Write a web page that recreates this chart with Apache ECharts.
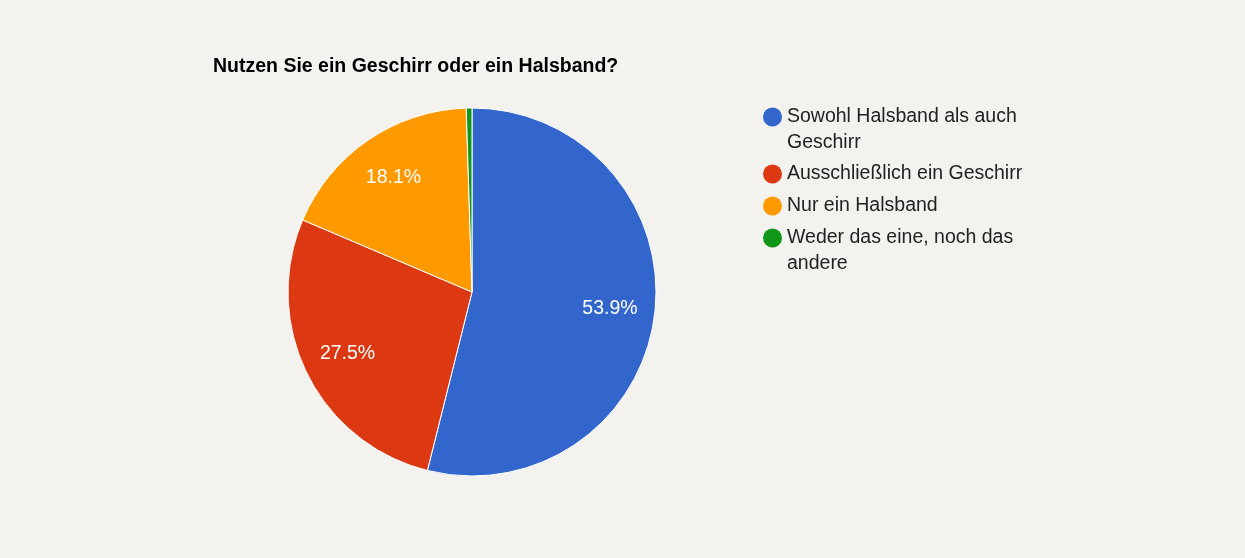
<!DOCTYPE html>
<html>
<head>
<meta charset="utf-8">
<script src="https://cdn.jsdelivr.net/npm/echarts@6/dist/echarts.min.js"></script>
<style>
html,body{margin:0;padding:0;background:#f3f2ee;}
#c{width:1245px;height:558px;}
</style>
</head>
<body>
<div id="c"></div>
<script>
const titleText = 'Nutzen Sie ein Geschirr oder ein Halsband?';
const categories = ['Sowohl Halsband als auch Geschirr', 'Ausschließlich ein Geschirr', 'Nur ein Halsband', 'Weder das eine, noch das andere'];
const legendLabels = ['\nSowohl Halsband als auch\nGeschirr', 'Ausschließlich ein Geschirr', 'Nur ein Halsband', '\nWeder das eine, noch das\nandere'];
const values = [53.9, 27.5, 18.1, 0.5];
const colors = ['#3366cc', '#dc3912', '#ff9900', '#109618'];

const chart = echarts.init(document.getElementById('c'));
const font = 'Arial, "Liberation Sans", sans-serif';
const legendTops = [78, 161, 193, 199];
const legends = categories.map((name, i) => ({
  data: [name],
  left: 763,
  top: legendTops[i],
  padding: 0,
  icon: 'circle',
  itemWidth: 19,
  itemHeight: 19,
  itemGap: 0,
  selectedMode: false,
  itemStyle: { borderWidth: 0 },
  formatter: () => legendLabels[i],
  textStyle: {
    fontFamily: font,
    fontSize: 19.5,
    color: '#222222',
    lineHeight: 26
  }
}));

chart.setOption({
  backgroundColor: '#f3f2ee',
  color: colors,
  title: {
    text: titleText,
    left: 208,
    top: 52,
    textStyle: { fontFamily: font, fontSize: 19.5, fontWeight: 'bold', color: '#000000' }
  },
  legend: legends,
  series: [
    {
      type: 'pie',
      center: [472, 292],
      radius: [0, 184],
      startAngle: 90,
      clockwise: true,
      avoidLabelOverlap: false,
      silent: true,
      itemStyle: { borderColor: '#ffffff', borderWidth: 1 },
      label: { show: false },
      labelLine: { show: false },
      emphasis: { disabled: true },
      data: categories.map((n, i) => ({ name: n, value: values[i] }))
    },
    {
      type: 'pie',
      center: [472, 292],
      radius: [88, 184],
      startAngle: 90,
      clockwise: true,
      avoidLabelOverlap: false,
      silent: true,
      itemStyle: { color: 'rgba(0,0,0,0)', borderWidth: 0 },
      label: {
        show: true,
        position: 'inside',
        color: '#ffffff',
        fontFamily: font,
        fontSize: 19.5,
        formatter: p => p.value.toFixed(1) + '%'
      },
      labelLine: { show: false },
      emphasis: { disabled: true },
      data: categories.map((n, i) => ({ name: n, value: values[i], label: { show: values[i] >= 5 } }))
    }
  ]
});
</script>
</body>
</html>
